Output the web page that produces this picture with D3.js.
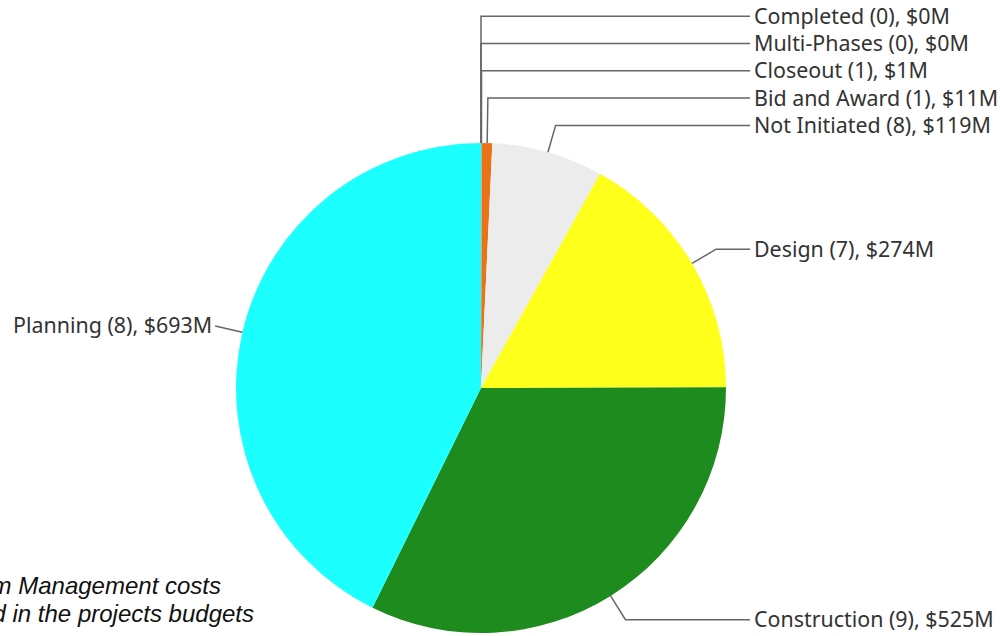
<!DOCTYPE html>
<html>
<head>
<meta charset="utf-8">
<script src="https://cdn.jsdelivr.net/npm/d3@7"></script>
<style>
  body { margin: 0; background: #fff; }
  svg { display: block; }
  .lbl { font-family: "Noto Sans", sans-serif; font-size: 21.4px; fill: #333; }
  .note { font-family: "Liberation Sans", Arial, sans-serif; font-style: italic; font-size: 24px; fill: #111; }
</style>
</head>
<body>
<svg id="chart" width="1000" height="636"></svg>
<script>
// phases in drawing order (clockwise from 12 o'clock)
const phases = ["Completed", "Multi-Phases", "Closeout", "Bid and Award", "Not Initiated", "Design", "Construction", "Planning"];
const projectCounts = [0, 0, 1, 1, 8, 7, 9, 8];
const budgetsM = [0, 0, 1, 11, 119, 274, 525, 693];
const phaseColors = ["#9e9e9e", "#7a5cff", "#b0b0b0", "#ea7317", "#ececec", "#ffff1c", "#1e8b1e", "#1cffff"];
const noteLines = ["*Program Management costs", "are not included in the projects budgets"];

const svg = d3.select("#chart");
const cx = 481, cy = 388, radius = 245;
const labelX = 754;
const lineEnd = 750;
const elbowLen = 28;
const rowGap = 27.3;

const data = phases.map((p, i) => ({ phase: p, count: projectCounts[i], value: budgetsM[i], color: phaseColors[i] }));

const pie = d3.pie().value(d => d.value).sort(null);
const arc = d3.arc().innerRadius(0).outerRadius(radius);
const arcs = pie(data);

const g = svg.append("g").attr("transform", `translate(${cx},${cy})`);

g.selectAll("path.slice")
  .data(arcs)
  .join("path")
  .attr("class", "slice")
  .attr("d", arc)
  .attr("fill", d => d.data.color);

// label positions
let labels = arcs.map(d => {
  const a = (d.startAngle + d.endAngle) / 2;
  const sx = Math.sin(a), sy = -Math.cos(a);
  return {
    d: d,
    right: sx >= 0,
    edge: [radius * sx, radius * sy],
    elbow: [(radius + elbowLen) * sx, (radius + elbowLen) * sy],
    y: (radius + elbowLen) * sy
  };
});

// push right side labels upward so they don't overlap (ties: later slice stays lower)
let rightSide = labels.filter(l => l.right)
  .sort((a, b) => (b.y - a.y) || (b.d.index - a.d.index));
for (let i = 1; i < rightSide.length; i++) {
  if (rightSide[i].y > rightSide[i - 1].y - rowGap) rightSide[i].y = rightSide[i - 1].y - rowGap;
}

const lineGen = d3.line();

labels.forEach(l => {
  let pts;
  if (l.right) {
    pts = [l.edge, [l.elbow[0], l.y], [lineEnd - cx, l.y]];
  } else {
    pts = [l.edge, [l.elbow[0], l.y]];
  }
  g.append("path")
    .attr("d", lineGen(pts))
    .attr("fill", "none")
    .attr("stroke", "#666")
    .attr("stroke-width", 1.5);

  g.append("text")
    .attr("class", "lbl")
    .attr("x", l.right ? labelX - cx : l.elbow[0] - 3)
    .attr("y", l.y)
    .attr("dy", "0.35em")
    .attr("text-anchor", l.right ? "start" : "end")
    .text(`${l.d.data.phase} (${l.d.data.count}), $${l.d.data.value}M`);
});

// footnote (cut off at the left edge, as in the original)
svg.selectAll("text.note")
  .data(noteLines)
  .join("text")
  .attr("class", "note")
  .attr("x", (d, i) => i === 0 ? 221 : 254)
  .attr("y", (d, i) => 594 + i * 28)
  .attr("text-anchor", "end")
  .text(d => d);
</script>
</body>
</html>
